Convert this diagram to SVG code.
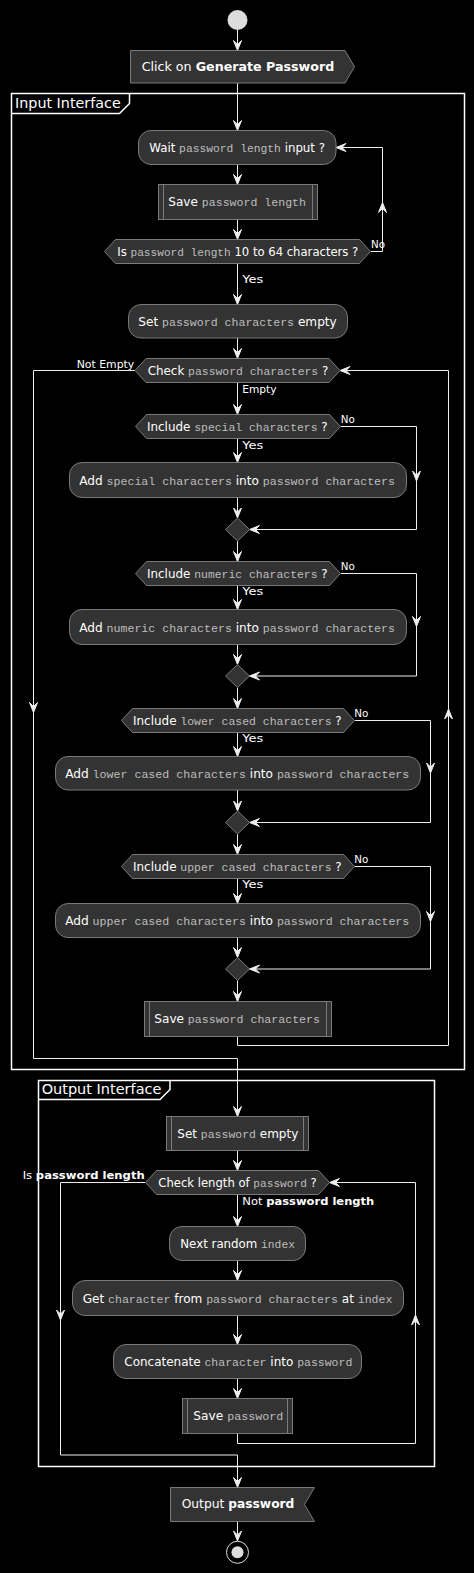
<svg xmlns="http://www.w3.org/2000/svg" xmlns:xlink="http://www.w3.org/1999/xlink" width="474" height="1573" viewBox="0 0 474 1573">
<style>
.n{fill:#333333;stroke:#7a7a7a;stroke-width:1}
.sl{stroke:#7a7a7a;stroke-width:1;fill:none}
.t{font-family:"DejaVu Sans","Liberation Sans",sans-serif;font-size:12px;fill:#ffffff}
.m{font-family:"Liberation Mono","DejaVu Sans Mono",monospace;font-size:11.5px;fill:#bdbdbd}
.b{font-weight:bold}
.l{font-family:"DejaVu Sans","Liberation Sans",sans-serif;font-size:11px;fill:#ffffff}
.f{fill:none;stroke:#ffffff;stroke-width:1.5}
.ft{font-family:"DejaVu Sans","Liberation Sans",sans-serif;font-size:14px;fill:#ffffff}
.c{fill:none;stroke:#eeeeee;stroke-width:1}
.ah{fill:#eeeeee;stroke:#eeeeee;stroke-width:1;stroke-linejoin:miter}
</style>
<defs>
<path id="a" d="M0,0 L-4,-10 L0,-6 L4,-10 Z"/>
</defs>
<rect x="0" y="0" width="474" height="1573" fill="#000000"/>

<g id="frame-input">
<rect class="f" x="11.5" y="93.5" width="453" height="976"/>
<path class="f" d="M11.5,113.5 H119.5 L129.5,103.5 V93.5"/>
<text class="ft" x="15" y="108.3" textLength="105.7" lengthAdjust="spacingAndGlyphs">Input Interface</text>
</g>
<g id="frame-output">
<rect class="f" x="38.5" y="1080.5" width="396" height="386"/>
<path class="f" d="M38.5,1099.5 H160 L170,1089.5 V1080.5"/>
<text class="ft" x="41.7" y="1094.3" textLength="119.7" lengthAdjust="spacingAndGlyphs">Output Interface</text>
</g>

<g id="connectors">
<path class="c" d="M237.5,30 V50.5"/>
<path class="c" d="M237.5,83 V130.5"/>
<path class="c" d="M237.5,164.5 V184.5"/>
<path class="c" d="M237.5,219.5 V239.5"/>
<path class="c" d="M370.5,251.5 H382.5 V147.5 H336"/>
<path class="c" d="M237.5,263.5 V304.5"/>
<path class="c" d="M237.5,338 V358.5"/>
<path class="c" d="M237.5,382.5 V414.5"/>
<path class="c" d="M237.5,438.5 V462.5"/>
<path class="c" d="M237.5,497.5 V518"/>
<path class="c" d="M340.5,426.5 H416.5 V529.5 H249.5"/>
<path class="c" d="M237.5,541 V561.5"/>
<path class="c" d="M237.5,585.5 V609.5"/>
<path class="c" d="M237.5,644.5 V664.5"/>
<path class="c" d="M340.5,573.5 H416.5 V676 H249.5"/>
<path class="c" d="M237.5,687.5 V708.5"/>
<path class="c" d="M237.5,732.5 V756.5"/>
<path class="c" d="M237.5,790 V811"/>
<path class="c" d="M354.5,720.5 H430.5 V822.5 H249.5"/>
<path class="c" d="M237.5,834 V854.5"/>
<path class="c" d="M237.5,878.5 V903.5"/>
<path class="c" d="M237.5,937.5 V957.5"/>
<path class="c" d="M354.5,866.5 H430.5 V969 H249.5"/>
<path class="c" d="M237.5,980.5 V1001.5"/>
<path class="c" d="M237.5,1036.5 V1045.5 H448.5 V370.5 H340"/>
<path class="c" d="M135,370.5 H33.5 V1058.5 H237.5 V1116.5"/>
<path class="c" d="M237.5,1150.5 V1170.5"/>
<path class="c" d="M237.5,1194.5 V1226.5"/>
<path class="c" d="M237.5,1260.5 V1280.5"/>
<path class="c" d="M237.5,1315.5 V1344.5"/>
<path class="c" d="M237.5,1378.5 V1398.5"/>
<path class="c" d="M237.5,1433.5 V1443.5 H415.5 V1182.5 H329.5"/>
<path class="c" d="M145.5,1182.5 H60.5 V1455 H237.5 V1487.5"/>
<path class="c" d="M237.5,1521.5 V1541"/>

<use xlink:href="#a" class="ah" transform="translate(237.5,50.5)"/>
<use xlink:href="#a" class="ah" transform="translate(237.5,130.5)"/>
<use xlink:href="#a" class="ah" transform="translate(237.5,184.5)"/>
<use xlink:href="#a" class="ah" transform="translate(237.5,239.5)"/>
<use xlink:href="#a" class="ah" transform="translate(237.5,304.5)"/>
<use xlink:href="#a" class="ah" transform="translate(237.5,358.5)"/>
<use xlink:href="#a" class="ah" transform="translate(237.5,414.5)"/>
<use xlink:href="#a" class="ah" transform="translate(237.5,462.5)"/>
<use xlink:href="#a" class="ah" transform="translate(237.5,518)"/>
<use xlink:href="#a" class="ah" transform="translate(237.5,561.5)"/>
<use xlink:href="#a" class="ah" transform="translate(237.5,609.5)"/>
<use xlink:href="#a" class="ah" transform="translate(237.5,664.5)"/>
<use xlink:href="#a" class="ah" transform="translate(237.5,708.5)"/>
<use xlink:href="#a" class="ah" transform="translate(237.5,756.5)"/>
<use xlink:href="#a" class="ah" transform="translate(237.5,811)"/>
<use xlink:href="#a" class="ah" transform="translate(237.5,854.5)"/>
<use xlink:href="#a" class="ah" transform="translate(237.5,903.5)"/>
<use xlink:href="#a" class="ah" transform="translate(237.5,957.5)"/>
<use xlink:href="#a" class="ah" transform="translate(237.5,1001.5)"/>
<use xlink:href="#a" class="ah" transform="translate(237.5,1116.5)"/>
<use xlink:href="#a" class="ah" transform="translate(237.5,1170.5)"/>
<use xlink:href="#a" class="ah" transform="translate(237.5,1226.5)"/>
<use xlink:href="#a" class="ah" transform="translate(237.5,1280.5)"/>
<use xlink:href="#a" class="ah" transform="translate(237.5,1344.5)"/>
<use xlink:href="#a" class="ah" transform="translate(237.5,1398.5)"/>
<use xlink:href="#a" class="ah" transform="translate(237.5,1487.5)"/>
<use xlink:href="#a" class="ah" transform="translate(237.5,1541)"/>

<use xlink:href="#a" class="ah" transform="translate(336,147.5) rotate(90)"/>
<use xlink:href="#a" class="ah" transform="translate(249.5,529.5) rotate(90)"/>
<use xlink:href="#a" class="ah" transform="translate(249.5,676) rotate(90)"/>
<use xlink:href="#a" class="ah" transform="translate(249.5,822.5) rotate(90)"/>
<use xlink:href="#a" class="ah" transform="translate(249.5,969) rotate(90)"/>
<use xlink:href="#a" class="ah" transform="translate(340,370.5) rotate(90)"/>
<use xlink:href="#a" class="ah" transform="translate(329.5,1182.5) rotate(90)"/>

<use xlink:href="#a" class="ah" transform="translate(382.5,202.5) rotate(180)"/>
<use xlink:href="#a" class="ah" transform="translate(448.5,709) rotate(180)"/>
<use xlink:href="#a" class="ah" transform="translate(415.5,1315) rotate(180)"/>

<use xlink:href="#a" class="ah" transform="translate(416.5,481)"/>
<use xlink:href="#a" class="ah" transform="translate(416.5,626.5)"/>
<use xlink:href="#a" class="ah" transform="translate(430.5,773)"/>
<use xlink:href="#a" class="ah" transform="translate(430.5,921.5)"/>
<use xlink:href="#a" class="ah" transform="translate(33.5,712.5)"/>
<use xlink:href="#a" class="ah" transform="translate(60.5,1320)"/>

<text class="l" x="371" y="248" textLength="14" lengthAdjust="spacingAndGlyphs">No</text>
<text class="l" x="242.3" y="283.3" textLength="21" lengthAdjust="spacingAndGlyphs">Yes</text>
<text class="l" x="76.7" y="367.7" textLength="57.6" lengthAdjust="spacingAndGlyphs">Not Empty</text>
<text class="l" x="242.3" y="392.7" textLength="34.3" lengthAdjust="spacingAndGlyphs">Empty</text>
<text class="l" x="340.7" y="423.3" textLength="14" lengthAdjust="spacingAndGlyphs">No</text>
<text class="l" x="242.3" y="449" textLength="21" lengthAdjust="spacingAndGlyphs">Yes</text>
<text class="l" x="340.7" y="570" textLength="14" lengthAdjust="spacingAndGlyphs">No</text>
<text class="l" x="242.3" y="595.3" textLength="21" lengthAdjust="spacingAndGlyphs">Yes</text>
<text class="l" x="354.3" y="717.3" textLength="14" lengthAdjust="spacingAndGlyphs">No</text>
<text class="l" x="242.3" y="741.7" textLength="21" lengthAdjust="spacingAndGlyphs">Yes</text>
<text class="l" x="354.3" y="863.3" textLength="14" lengthAdjust="spacingAndGlyphs">No</text>
<text class="l" x="242.3" y="888.3" textLength="21" lengthAdjust="spacingAndGlyphs">Yes</text>
<text class="l" x="22.7" y="1179.3" textLength="122" lengthAdjust="spacingAndGlyphs">Is <tspan class="b">password length</tspan></text>
<text class="l" x="242.3" y="1205" textLength="132" lengthAdjust="spacingAndGlyphs">Not <tspan class="b">password length</tspan></text>
</g>

<g id="start"><circle cx="237.5" cy="20" r="10" fill="#dddddd"/></g>

<g id="click">
<polygon class="n" points="130.5,50.5 345,50.5 354.5,66.75 345,83 130.5,83"/>
<text class="t" x="141.7" y="70.5" textLength="192.6" lengthAdjust="spacingAndGlyphs">Click on <tspan class="b">Generate Password</tspan></text>
</g>

<g id="wait">
<rect class="n" x="138.5" y="130.5" width="197.5" height="34" rx="12.5"/>
<text class="t" x="149.3" y="151.7" textLength="175.7" lengthAdjust="spacingAndGlyphs">Wait <tspan class="m">password length</tspan> input ?</text>
</g>

<g id="save-length">
<rect class="n" x="158.5" y="184.5" width="159" height="35"/>
<path class="sl" d="M163.5,184.5 V219.5 M312.5,184.5 V219.5"/>
<text class="t" x="168.3" y="206" textLength="137.7" lengthAdjust="spacingAndGlyphs">Save <tspan class="m">password length</tspan></text>
</g>

<g id="is-length">
<polygon class="n" points="104.5,251.5 115.5,239.5 359.5,239.5 370.5,251.5 359.5,263.5 115.5,263.5"/>
<text class="t" x="117.3" y="255.5" textLength="241" lengthAdjust="spacingAndGlyphs">Is <tspan class="m">password length</tspan> 10 to 64 characters ?</text>
</g>

<g id="set-chars">
<rect class="n" x="128.5" y="304.5" width="219" height="33.5" rx="12.5"/>
<text class="t" x="138.3" y="326" textLength="198.4" lengthAdjust="spacingAndGlyphs">Set <tspan class="m">password characters</tspan> empty</text>
</g>

<g id="check-chars">
<polygon class="n" points="135,370.5 146,358.5 329,358.5 340,370.5 329,382.5 146,382.5"/>
<text class="t" x="147.7" y="374.7" textLength="180.6" lengthAdjust="spacingAndGlyphs">Check <tspan class="m">password characters</tspan> ?</text>
</g>

<g id="incl-special">
<polygon class="n" points="135.5,426.5 146.5,414.5 329.5,414.5 340.5,426.5 329.5,438.5 146.5,438.5"/>
<text class="t" x="147" y="430.7" textLength="180.7" lengthAdjust="spacingAndGlyphs">Include <tspan class="m">special characters</tspan> ?</text>
</g>
<g id="add-special">
<rect class="n" x="69.5" y="462.5" width="337" height="35" rx="12.5"/>
<text class="t" x="79.3" y="485" textLength="315.7" lengthAdjust="spacingAndGlyphs">Add <tspan class="m">special characters</tspan> into <tspan class="m">password characters</tspan></text>
</g>
<g id="merge-1"><polygon class="n" points="237.5,518 249.5,529.5 237.5,541 225.5,529.5"/></g>

<g id="incl-numeric">
<polygon class="n" points="135.5,573.5 146.5,561.5 329.5,561.5 340.5,573.5 329.5,585.5 146.5,585.5"/>
<text class="t" x="147" y="577.7" textLength="180.7" lengthAdjust="spacingAndGlyphs">Include <tspan class="m">numeric characters</tspan> ?</text>
</g>
<g id="add-numeric">
<rect class="n" x="69.5" y="609.5" width="337" height="35" rx="12.5"/>
<text class="t" x="79.3" y="631.5" textLength="315.7" lengthAdjust="spacingAndGlyphs">Add <tspan class="m">numeric characters</tspan> into <tspan class="m">password characters</tspan></text>
</g>
<g id="merge-2"><polygon class="n" points="237.5,664.5 249.5,676 237.5,687.5 225.5,676"/></g>

<g id="incl-lower">
<polygon class="n" points="121.5,720.5 132.5,708.5 343.5,708.5 354.5,720.5 343.5,732.5 132.5,732.5"/>
<text class="t" x="133" y="724.7" textLength="208.7" lengthAdjust="spacingAndGlyphs">Include <tspan class="m">lower cased characters</tspan> ?</text>
</g>
<g id="add-lower">
<rect class="n" x="55.5" y="756.5" width="365" height="33.5" rx="12.5"/>
<text class="t" x="65.3" y="777.7" textLength="344" lengthAdjust="spacingAndGlyphs">Add <tspan class="m">lower cased characters</tspan> into <tspan class="m">password characters</tspan></text>
</g>
<g id="merge-3"><polygon class="n" points="237.5,811 249.5,822.5 237.5,834 225.5,822.5"/></g>

<g id="incl-upper">
<polygon class="n" points="121.5,866.5 132.5,854.5 343.5,854.5 354.5,866.5 343.5,878.5 132.5,878.5"/>
<text class="t" x="133" y="870.7" textLength="208.7" lengthAdjust="spacingAndGlyphs">Include <tspan class="m">upper cased characters</tspan> ?</text>
</g>
<g id="add-upper">
<rect class="n" x="55.5" y="903.5" width="365" height="34" rx="12.5"/>
<text class="t" x="65.3" y="925" textLength="344" lengthAdjust="spacingAndGlyphs">Add <tspan class="m">upper cased characters</tspan> into <tspan class="m">password characters</tspan></text>
</g>
<g id="merge-4"><polygon class="n" points="237.5,957.5 249.5,969 237.5,980.5 225.5,969"/></g>

<g id="save-chars">
<rect class="n" x="144.5" y="1001.5" width="187" height="35"/>
<path class="sl" d="M149.5,1001.5 V1036.5 M326.5,1001.5 V1036.5"/>
<text class="t" x="154.3" y="1023" textLength="165.7" lengthAdjust="spacingAndGlyphs">Save <tspan class="m">password characters</tspan></text>
</g>

<g id="set-password">
<rect class="n" x="166.5" y="1116.5" width="142" height="34"/>
<path class="sl" d="M171.5,1116.5 V1150.5 M303.5,1116.5 V1150.5"/>
<text class="t" x="177.3" y="1138" textLength="121" lengthAdjust="spacingAndGlyphs">Set <tspan class="m">password</tspan> empty</text>
</g>

<g id="check-length">
<polygon class="n" points="145.5,1182.5 156.5,1170.5 318.5,1170.5 329.5,1182.5 318.5,1194.5 156.5,1194.5"/>
<text class="t" x="158.3" y="1186.7" textLength="158.4" lengthAdjust="spacingAndGlyphs">Check length of <tspan class="m">password</tspan> ?</text>
</g>

<g id="next-index">
<rect class="n" x="169.5" y="1226.5" width="136" height="34" rx="12.5"/>
<text class="t" x="180.3" y="1248" textLength="114.7" lengthAdjust="spacingAndGlyphs">Next random <tspan class="m">index</tspan></text>
</g>

<g id="get-char">
<rect class="n" x="72.5" y="1280.5" width="331" height="35" rx="12.5"/>
<text class="t" x="82.7" y="1302.7" textLength="309.7" lengthAdjust="spacingAndGlyphs">Get <tspan class="m">character</tspan> from <tspan class="m">password characters</tspan> at <tspan class="m">index</tspan></text>
</g>

<g id="concat">
<rect class="n" x="113.5" y="1344.5" width="248" height="34" rx="12.5"/>
<text class="t" x="124.3" y="1366" textLength="228" lengthAdjust="spacingAndGlyphs">Concatenate <tspan class="m">character</tspan> into <tspan class="m">password</tspan></text>
</g>

<g id="save-password">
<rect class="n" x="182.5" y="1398.5" width="110" height="35"/>
<path class="sl" d="M187.5,1398.5 V1433.5 M287.5,1398.5 V1433.5"/>
<text class="t" x="193.3" y="1420" textLength="90" lengthAdjust="spacingAndGlyphs">Save <tspan class="m">password</tspan></text>
</g>

<g id="output">
<polygon class="n" points="170.5,1487.5 314.5,1487.5 304.5,1504.5 314.5,1521.5 170.5,1521.5"/>
<text class="t" x="181.7" y="1508" textLength="112.7" lengthAdjust="spacingAndGlyphs">Output <tspan class="b">password</tspan></text>
</g>

<g id="end">
<circle cx="237.5" cy="1552.3" r="11" fill="none" stroke="#dddddd" stroke-width="1"/>
<circle cx="237.5" cy="1552.3" r="6" fill="#dddddd"/>
</g>
</svg>
